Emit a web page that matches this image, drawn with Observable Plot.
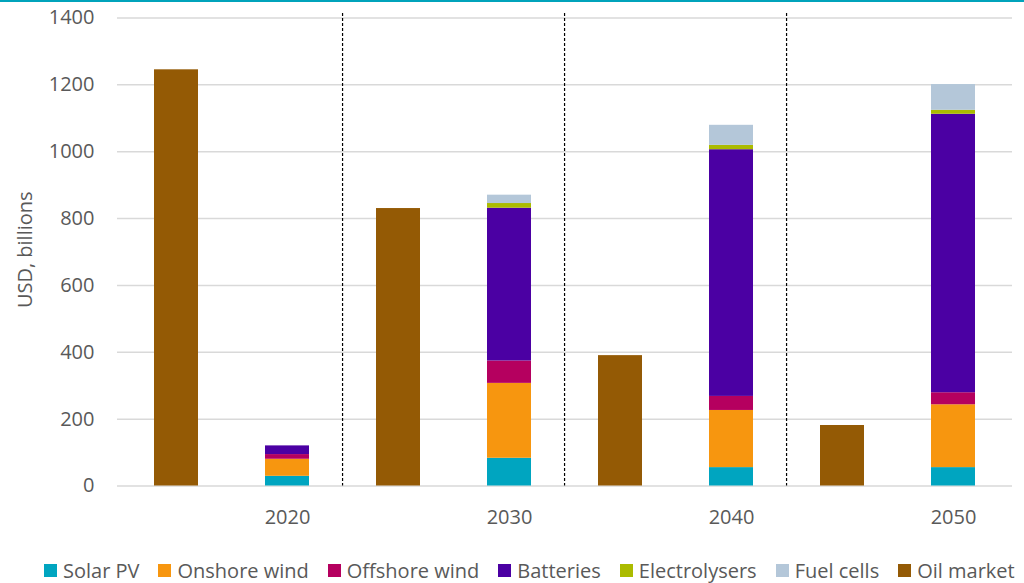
<!DOCTYPE html>
<html>
<head>
<meta charset="utf-8">
<script src="https://cdn.jsdelivr.net/npm/d3@7"></script>
<script src="https://cdn.jsdelivr.net/npm/@observablehq/plot@0.6"></script>
<style>
  html, body { margin: 0; padding: 0; background: #ffffff; }
  body::before { content: ""; position: fixed; left: 0; top: 0; width: 100%; height: 2px; background: #00a3bb; z-index: 5; }
  #chart svg { display: block; }
  #legend { height: 30px; }
  #legend .lg-swatches { margin: 0 !important; min-height: 30px !important; padding-left: 44px; flex-wrap: nowrap !important; white-space: nowrap; }
  #legend .lg-swatches > * { margin-right: 19px !important; white-space: nowrap; flex-shrink: 0; }
  #legend svg { margin-right: 6px !important; flex-shrink: 0; }
</style>
</head>
<body>
<div id="chart"></div>
<div id="legend"></div>
<script>
// Market size in USD billions, per year
const years = ["2020", "2030", "2040", "2050"];
const techs = ["Solar PV", "Onshore wind", "Offshore wind", "Batteries", "Electrolysers", "Fuel cells"];
const solarPV       = [29, 83, 55, 55];
const onshoreWind   = [51, 224, 171, 188];
const offshoreWind  = [14, 67, 42, 36];
const batteries     = [26, 457, 738, 833];
const electrolysers = [0, 14, 13, 12];
const fuelCells     = [0, 25, 60, 77];
const oilMarket     = [1245, 830, 390, 181];
const yTicks = [0, 200, 400, 600, 800, 1000, 1200, 1400];

const seriesNames = [...techs, "Oil market"];
const seriesColors = ["#00a5c0", "#f7960f", "#b5005f", "#4b00a3", "#abbb00", "#b4c7d9", "#945a05"];
const techValues = [solarPV, onshoreWind, offshoreWind, batteries, electrolysers, fuelCells];

// Two slots per year: the oil market bar, then the stacked clean-tech bar
const oilSlot = y => `${y} oil`;
const techSlot = y => `${y} clean`;
const slots = years.flatMap(y => [oilSlot(y), techSlot(y)]);

const rows = [];
years.forEach((y, i) => {
  rows.push({slot: oilSlot(y), series: "Oil market", value: oilMarket[i]});
  techs.forEach((t, k) => rows.push({slot: techSlot(y), series: t, value: techValues[k][i]}));
});

const W = 1024, H = 555, mL = 117, mR = 12;
const step = (W - mL - mR) / slots.length;
const font = "'Open Sans', 'Noto Sans', sans-serif";
const textColor = "#595959";

const chart = Plot.plot({
  width: W,
  height: H,
  marginLeft: mL,
  marginRight: mR,
  marginTop: 13,
  marginBottom: H - 485.5,
  style: {fontFamily: font, fontSize: "20px", color: textColor, background: "transparent"},
  x: {domain: slots, paddingInner: 0.6, paddingOuter: 0.3, label: null},
  y: {domain: [0, 1400], insetTop: 4.5, label: null},
  color: {domain: seriesNames, range: seriesColors},
  marks: [
    Plot.gridY(yTicks, {stroke: "#d9d9d9", strokeOpacity: 1, strokeWidth: 1.5}),
    Plot.ruleX(years.slice(1).map(oilSlot), {x: d => d, dx: -step / 2, stroke: "#000000", strokeWidth: 1.2, strokeDasharray: "3,2"}),
    Plot.barY(rows, {x: "slot", y: "value", fill: "series"}),
    Plot.axisY(yTicks, {tickSize: 0, tickPadding: 23, fontSize: 20, tickFormat: d => String(d), label: "USD, billions", labelAnchor: "center", labelOffset: 100, labelArrow: "none"}),
    Plot.axisX(years.map(techSlot), {tickSize: 0, tickPadding: 24, fontSize: 20, tickFormat: d => d.split(" ")[0], label: null})
  ]
});
document.getElementById("chart").appendChild(chart);

const legend = chart.legend("color", {
  legend: "swatches",
  swatchSize: 13,
  className: "lg",
  style: {fontFamily: font, fontSize: "20px", color: textColor}
});
document.getElementById("legend").appendChild(legend);
</script>
</body>
</html>
